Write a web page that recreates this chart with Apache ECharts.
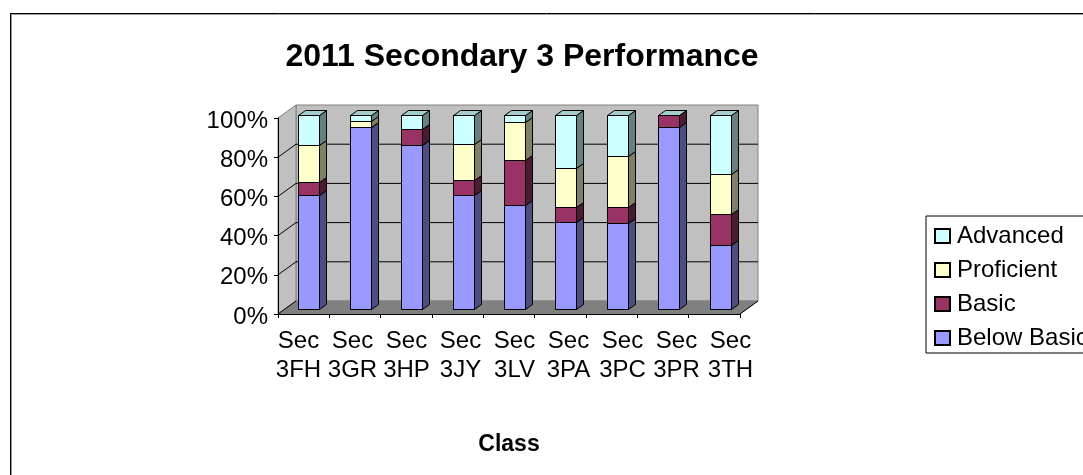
<!DOCTYPE html>
<html>
<head>
<meta charset="utf-8">
<title>2011 Secondary 3 Performance</title>
<script src="https://cdn.jsdelivr.net/npm/echarts@6/dist/echarts.min.js"></script>
<style>
html, body { margin: 0; padding: 0; background: #fff; }
#main { width: 1083px; height: 475px; }
</style>
</head>
<body>
<div id="main"></div>
<script>
var categories = ['Sec\n3FH', 'Sec\n3GR', 'Sec\n3HP', 'Sec\n3JY', 'Sec\n3LV', 'Sec\n3PA', 'Sec\n3PC', 'Sec\n3PR', 'Sec\n3TH'];
var belowBasic = [59, 93.6, 84.5, 59, 53.6, 44.7, 44.2, 93.6, 32.8];
var basic = [6.6, 0, 8.1, 7.3, 23.2, 7.7, 8.2, 6.4, 16];
var proficient = [18.9, 3.1, 0, 18.9, 19.6, 20.1, 26.5, 0, 20.6];
var advanced = [15.5, 3.3, 7.4, 14.8, 3.6, 27.5, 21.1, 0, 30.6];
var yTicks = [0, 20, 40, 60, 80, 100];

var FONT = '"Liberation Sans", Arial, sans-serif';
var myChart = echarts.init(document.getElementById('main'));

// wall depth and bar depth in pixels
var wallDx = 18, wallDy = -13;
var barDx = 7, barDy = -5;

var seriesInfo = [
    {name: 'Below Basic', values: belowBasic, color: '#9999FF', side: '#4D4D80'},
    {name: 'Basic', values: basic, color: '#993366', side: '#4D1A33'},
    {name: 'Proficient', values: proficient, color: '#FFFFCC', side: '#808066'},
    {name: 'Advanced', values: advanced, color: '#CCFFFF', side: '#668080', top: '#A3CCCC'}
];

function poly(points, fill, stroke) {
    return {
        type: 'polygon',
        shape: {points: points},
        style: {fill: fill, stroke: stroke, lineWidth: 1}
    };
}

function line(x1, y1, x2, y2, color) {
    return {
        type: 'line',
        shape: {x1: x1, y1: y1, x2: x2, y2: y2},
        style: {stroke: color, lineWidth: 1}
    };
}

function renderWalls(params, api) {
    var band = api.size([1, 0])[0];
    var left = api.coord([0, 0])[0] - band / 2;
    var right = api.coord([categories.length - 1, 0])[0] + band / 2;
    var y0 = api.coord([0, 0])[1];
    var y1 = api.coord([0, 100])[1];
    var kids = [
        poly([[left + wallDx, y1 + wallDy], [right + wallDx, y1 + wallDy], [right + wallDx, y0 + wallDy], [left + wallDx, y0 + wallDy]], '#C0C0C0', '#808080'),
        poly([[left, y1], [left + wallDx, y1 + wallDy], [left + wallDx, y0 + wallDy], [left, y0]], '#C0C0C0', '#808080'),
        poly([[left, y0], [left + wallDx, y0 + wallDy], [right + wallDx, y0 + wallDy], [right, y0]], '#808080', '#808080')
    ];
    yTicks.forEach(function (t) {
        var y = api.coord([0, t])[1];
        if (t > 0 && t < 100) {
            kids.push(line(left + wallDx, y + wallDy, right + wallDx, y + wallDy, '#000'));
        }
        if (t < 100) {
            kids.push(line(left, y, left + wallDx, y + wallDy, '#000'));
        }
    });
    kids.push(line(right, y0, right + wallDx, y0 + wallDy, '#000'));
    return {type: 'group', children: kids};
}

function makeRender(info) {
    return function (params, api) {
        var idx = api.value(0);
        var low = api.coord([idx, api.value(1)]);
        var high = api.coord([idx, api.value(2)]);
        var w = api.size([1, 0])[0] * 0.41;
        var x0 = Math.round(low[0] - w / 2) + 0.5;
        var x1 = x0 + Math.round(w);
        var yb = Math.round(low[1]) + 0.5;
        var yt = Math.round(high[1]) + 0.5;
        var kids = [
            poly([[x1, yt], [x1 + barDx, yt + barDy], [x1 + barDx, yb + barDy], [x1, yb]], info.side, '#000'),
            poly([[x0, yt], [x1, yt], [x1, yb], [x0, yb]], info.color, '#000')
        ];
        if (info.top) {
            kids.push(poly([[x0, yt], [x0 + barDx, yt + barDy], [x1 + barDx, yt + barDy], [x1, yt]], info.top, '#000'));
        }
        return {type: 'group', children: kids};
    };
}

var series = [{
    type: 'custom',
    name: 'walls',
    xAxisIndex: 0,
    yAxisIndex: 0,
    z: 0,
    silent: true,
    clip: false,
    data: [[0, 0]],
    renderItem: renderWalls
}];

var running = categories.map(function () { return 0; });
seriesInfo.forEach(function (info) {
    var rows = info.values.map(function (v, i) {
        var row = [i, running[i], running[i] + v];
        running[i] += v;
        return row;
    });
    series.push({
        type: 'custom',
        name: info.name,
        xAxisIndex: 1,
        yAxisIndex: 1,
        z: 3,
        clip: false,
        itemStyle: {color: info.color, borderColor: '#000', borderWidth: 1},
        encode: {x: 0, y: [1, 2]},
        data: rows,
        renderItem: makeRender(info)
    });
});

var option = {
    animation: false,
    backgroundColor: '#fff',
    textStyle: {fontFamily: FONT},
    title: {
        text: '2011 Secondary 3 Performance',
        left: 517,
        top: 36,
        textAlign: 'center',
        textStyle: {fontFamily: FONT, fontSize: 32, fontWeight: 'bold', color: '#000'}
    },
    legend: {
        orient: 'vertical',
        left: 926,
        top: 216,
        padding: [8, 40, 3, 8],
        itemGap: 10,
        itemWidth: 15,
        itemHeight: 14,
        icon: 'rect',
        selectedMode: false,
        backgroundColor: '#fff',
        borderColor: '#000',
        borderWidth: 1,
        data: ['Advanced', 'Proficient', 'Basic', 'Below Basic'],
        textStyle: {fontFamily: FONT, fontSize: 24, color: '#000', padding: [0, 0, 0, 2]}
    },
    grid: [
        {left: 278, top: 118, width: 462, height: 196},
        {left: 283, top: 115, width: 463, height: 194},
        // the tick labels sit a little off the ticks, so they get their own grid
        {left: 271.5, top: 121, width: 486, height: 196}
    ],
    xAxis: [
        {
            type: 'category',
            gridIndex: 0,
            data: categories,
            z: 5,
            name: 'Class',
            nameLocation: 'middle',
            nameGap: 119,
            nameTextStyle: {fontFamily: FONT, fontSize: 23, fontWeight: 'bold', color: '#000'},
            axisLine: {lineStyle: {color: '#000', width: 1}},
            axisTick: {show: true, length: 4, lineStyle: {color: '#000'}, alignWithLabel: false},
            axisLabel: {show: false}
        },
        {type: 'category', gridIndex: 1, data: categories, show: false},
        {
            type: 'category',
            gridIndex: 2,
            data: categories,
            axisLine: {show: false},
            axisTick: {show: false},
            axisLabel: {interval: 0, margin: 10, fontFamily: FONT, fontSize: 24, lineHeight: 29, color: '#000'}
        }
    ],
    yAxis: [
        {
            type: 'value',
            gridIndex: 0,
            min: 0,
            max: 100,
            interval: 20,
            z: 5,
            axisLine: {show: true, lineStyle: {color: '#000', width: 1}},
            axisTick: {show: true, length: 4, lineStyle: {color: '#000'}},
            splitLine: {show: false},
            axisLabel: {show: false}
        },
        {type: 'value', gridIndex: 1, min: 0, max: 100, show: false},
        {
            type: 'value',
            gridIndex: 2,
            min: 0,
            max: 100,
            interval: 20,
            axisLine: {show: false},
            axisTick: {show: false},
            splitLine: {show: false},
            axisLabel: {formatter: '{value}%', margin: 3.5, fontFamily: FONT, fontSize: 24, color: '#000'}
        }
    ],
    graphic: [
        {type: 'line', shape: {x1: 10.5, y1: 13.5, x2: 10.5, y2: 475}, style: {stroke: '#000', lineWidth: 1}},
        {type: 'line', shape: {x1: 11.5, y1: 14.5, x2: 11.5, y2: 475}, style: {stroke: '#999', lineWidth: 1}},
        {type: 'line', shape: {x1: 10, y1: 13.5, x2: 1083, y2: 13.5}, style: {stroke: '#000', lineWidth: 1}},
        {type: 'line', shape: {x1: 11, y1: 14.5, x2: 1083, y2: 14.5}, style: {stroke: '#999', lineWidth: 1}}
    ],
    series: series
};
myChart.setOption(option);
</script>
</body>
</html>
